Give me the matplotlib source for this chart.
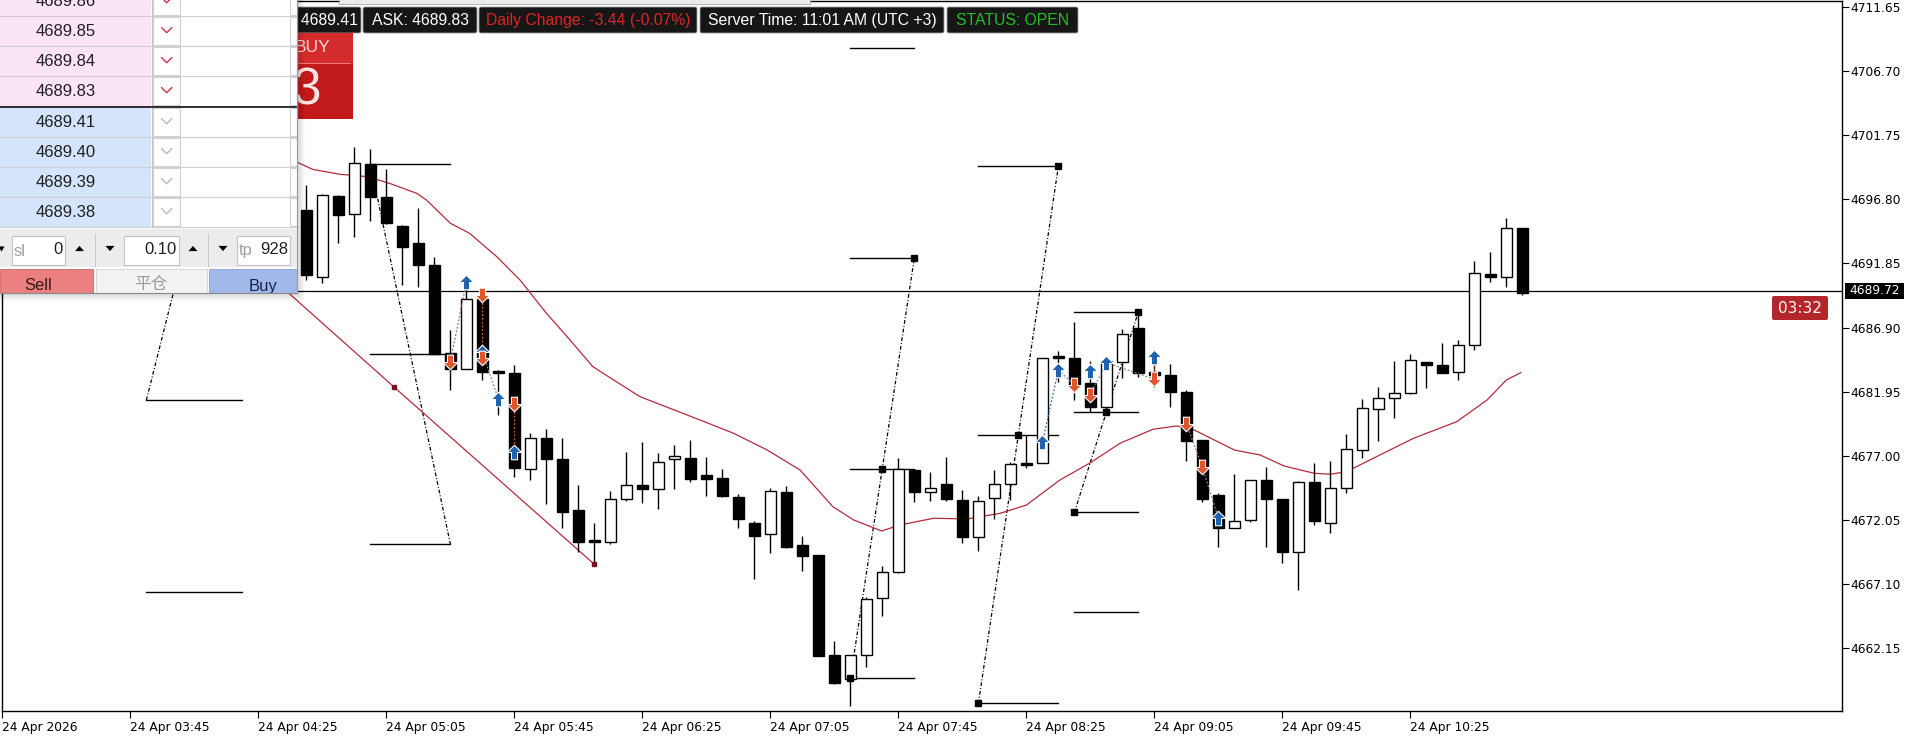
import matplotlib
matplotlib.use('Agg')
import matplotlib.pyplot as plt
from matplotlib.patches import Rectangle, FancyBboxPatch, Polygon
from matplotlib.path import Path
import numpy as np

W, H = 1920, 738

# 5-minute bars, index 0 = 24 Apr 03:05
bar_idx = list(range(19, 96))
opens = [4695.97, 4690.78, 4697.06, 4695.64, 4699.53, 4696.95, 4694.74, 4693.40, 4691.73, 4684.91,
         4683.72, 4689.08, 4683.54, 4683.36, 4675.95, 4678.34, 4676.72, 4672.81, 4670.40, 4670.36,
         4673.63, 4674.74, 4674.41, 4676.72, 4676.80, 4675.49, 4675.26, 4673.79, 4671.78, 4670.93,
         4674.20, 4670.08, 4669.34, 4661.59, 4659.73, 4661.59, 4665.99, 4668.05, 4675.90, 4674.17,
         4674.82, 4673.58, 4670.70, 4673.71, 4674.79, 4676.41, 4676.41, 4684.60, 4684.52, 4682.64,
         4680.79, 4684.26, 4686.84, 4683.44, 4683.23, 4681.89, 4678.21, 4673.97, 4671.39, 4672.04,
         4675.13, 4673.66, 4669.59, 4674.94, 4671.83, 4674.48, 4677.45, 4680.59, 4681.43, 4681.82,
         4684.21, 4684.01, 4683.44, 4685.53, 4691.01, 4690.78, 4694.56]
highs = [4697.90, 4697.21, 4697.14, 4700.87, 4700.66, 4699.11, 4694.80, 4696.10, 4692.37, 4686.71,
         4690.31, 4689.67, 4683.60, 4684.01, 4678.73, 4679.04, 4678.34, 4674.74, 4671.83, 4674.28,
         4677.26, 4678.04, 4677.19, 4677.83, 4678.22, 4676.88, 4675.95, 4674.02, 4671.96, 4674.48,
         4674.66, 4670.83, 4669.34, 4662.69, 4661.60, 4666.07, 4668.49, 4676.80, 4675.98, 4675.77,
         4676.93, 4674.35, 4673.89, 4675.90, 4676.54, 4678.57, 4684.52, 4685.11, 4687.35, 4684.34,
         4684.52, 4686.79, 4688.18, 4684.91, 4684.08, 4682.07, 4678.21, 4674.15, 4675.56, 4675.13,
         4676.15, 4673.66, 4675.05, 4676.41, 4676.59, 4678.65, 4681.36, 4682.28, 4684.29, 4684.86,
         4684.21, 4685.68, 4685.94, 4692.04, 4692.71, 4695.33, 4694.60]
lows = [4690.57, 4690.36, 4693.40, 4693.92, 4695.15, 4694.90, 4690.18, 4690.05, 4684.83, 4682.07,
        4683.72, 4682.85, 4680.14, 4675.38, 4675.13, 4673.25, 4671.39, 4669.59, 4668.78, 4670.20,
        4673.50, 4673.32, 4672.91, 4674.41, 4675.00, 4673.92, 4673.81, 4671.45, 4667.46, 4669.46,
        4669.90, 4668.13, 4661.56, 4659.37, 4657.68, 4660.71, 4664.62, 4667.97, 4673.45, 4673.53,
        4673.50, 4670.29, 4669.67, 4672.09, 4673.58, 4676.08, 4676.40, 4682.72, 4681.30, 4680.40,
        4680.36, 4682.98, 4683.10, 4682.33, 4680.79, 4676.62, 4673.45, 4669.98, 4671.39, 4671.90,
        4669.93, 4668.69, 4666.63, 4671.65, 4671.01, 4674.15, 4676.85, 4678.17, 4679.94, 4681.80,
        4682.26, 4683.37, 4682.88, 4685.19, 4690.44, 4690.06, 4689.44]
closes = [4690.96, 4697.13, 4695.61, 4699.58, 4697.00, 4694.94, 4693.14, 4691.75, 4684.83, 4683.72,
          4689.08, 4683.49, 4683.36, 4676.03, 4678.34, 4676.72, 4672.68, 4670.36, 4670.36, 4673.63,
          4674.71, 4674.46, 4676.49, 4676.95, 4675.23, 4675.23, 4673.89, 4672.14, 4670.83, 4674.28,
          4669.98, 4669.28, 4661.56, 4659.48, 4661.59, 4665.91, 4668.00, 4675.98, 4674.23, 4674.48,
          4673.63, 4670.70, 4673.51, 4674.79, 4676.33, 4676.28, 4684.52, 4684.57, 4682.46, 4680.79,
          4684.34, 4686.37, 4683.41, 4683.26, 4681.95, 4678.16, 4673.66, 4671.39, 4671.96, 4675.13,
          4673.63, 4669.59, 4675.00, 4671.98, 4674.48, 4677.50, 4680.66, 4681.43, 4681.82, 4684.37,
          4684.03, 4683.42, 4685.53, 4691.09, 4690.78, 4694.56, 4689.60]

# moving average line
ma_x = [18.0, 19.4, 21.1, 22.8, 24.2, 25.9, 26.5, 28.0, 29.2, 30.9, 32.35, 34.0, 35.3, 36.9, 38.2,
        39.85, 43.6, 45.7, 47.8, 49.85, 51.9, 53.2, 54.95, 56.1, 58.2, 60.3, 62.35, 64.0, 66.1, 68.0,
        69.85, 71.9, 73.4, 74.4, 77.0, 78.6, 80.1, 82.0, 83.0, 84.0, 86.1, 88.2, 90.9, 92.8, 94.0, 94.9]
ma_y = [4699.90, 4699.11, 4698.73, 4698.55, 4698.03, 4697.26, 4696.75, 4694.95, 4694.17, 4692.37,
        4690.57, 4688.00, 4686.19, 4683.88, 4682.85, 4681.56, 4679.76, 4678.73, 4677.44, 4675.90,
        4673.07, 4672.04, 4671.19, 4671.65, 4672.17, 4672.12, 4672.55, 4673.19, 4675.13, 4676.46,
        4677.96, 4679.04, 4679.30, 4679.04, 4677.44, 4677.06, 4676.21, 4675.64, 4675.57, 4675.77,
        4677.06, 4678.35, 4679.63, 4681.31, 4682.85, 4683.42]

trend_x = [17.4, 24.5, 37.0]
trend_y = [4690.10, 4682.28, 4668.61]

# level groups: start bar, end bar, levels, diagonal (x0, y0, x1, y1), squares
grp_start = [9, 23, 53, 61, 67]
grp_end = [15, 28, 57, 66, 71]
grp_levels = [[4681.30, 4666.48],
              [4699.50, 4684.83, 4670.16],
              [4708.46, 4692.30, 4675.98, 4659.80],
              [4699.37, 4678.60, 4657.88],
              [4688.12, 4680.35, 4672.63, 4664.90]]
grp_diag = [(9, 4681.30, 15, 4710.80),
            (23, 4699.50, 28, 4670.16),
            (53, 4659.80, 57, 4692.30),
            (61, 4657.88, 66, 4699.37),
            (67, 4672.63, 71, 4688.12)]
sq_x = [53, 55, 57, 61, 63.5, 66, 67, 69, 71]
sq_y = [4659.80, 4675.98, 4692.30, 4657.88, 4678.60, 4699.37, 4672.63, 4680.35, 4688.12]

buy_x = [29, 30, 31, 32, 65, 66, 68, 69, 72, 76]
buy_y = [4690.44, 4684.98, 4681.35, 4677.31, 4678.03, 4683.62, 4683.54, 4684.19, 4684.65, 4672.17]
sell_x = [28, 30, 30, 32, 67, 68, 72, 74, 75]
sell_y = [4684.26, 4689.41, 4684.52, 4681.00, 4682.46, 4681.69, 4682.90, 4679.45, 4676.10]

link_x0 = [28, 30, 30, 32, 65, 66, 68, 69, 72, 74, 75]
link_y0 = [4684.26, 4689.41, 4684.98, 4681.00, 4678.03, 4683.62, 4681.69, 4684.19, 4684.65, 4679.45, 4676.10]
link_x1 = [29, 30, 31, 32, 66, 67, 69, 72, 72, 75, 76]
link_y1 = [4690.44, 4684.52, 4681.35, 4677.31, 4683.62, 4682.46, 4684.19, 4682.90, 4682.90, 4676.10, 4672.17]
link_col = ['#9a7060', '#e05030', '#8a8a9a', '#e05030', '#3070b0', '#8a8a8a', '#8a8a9a',
            '#8a8a8a', '#e05030', '#b07060', '#8a8a8a']

xtick_idx = [0, 8, 16, 24, 32, 40, 48, 56, 64, 72, 80, 88]
xtick_lab = ['24 Apr 2026', '24 Apr 03:45', '24 Apr 04:25', '24 Apr 05:05', '24 Apr 05:45',
             '24 Apr 06:25', '24 Apr 07:05', '24 Apr 07:45', '24 Apr 08:25', '24 Apr 09:05',
             '24 Apr 09:45', '24 Apr 10:25']
ytick_val = [4711.65, 4706.70, 4701.75, 4696.80, 4691.85, 4686.90, 4681.95, 4677.00, 4672.05,
             4667.10, 4662.15]
bid_line = 4689.72

dom_ask = ['4689.86', '4689.85', '4689.84', '4689.83']
dom_bid = ['4689.41', '4689.40', '4689.39', '4689.38']
header_txt = ['BID: 4689.41', 'ASK: 4689.83', 'Daily Change: -3.44 (-0.07%)',
              'Server Time: 11:01 AM (UTC +3)', 'STATUS: OPEN']
header_col = ['white', 'white', '#e02424', 'white', '#22c022']
header_x = [(230, 361), (363, 477), (479, 697), (700, 944), (947, 1078)]

fig = plt.figure(figsize=(W / 100, H / 100), dpi=100)
ax = fig.add_axes([2 / W, 1 - 711 / H, 1840 / W, 710 / H])
ax.set_xlim(-0.025, 114.975)
ax.set_ylim(4657.288, 4712.113)

# level groups and diagonals
for i in range(len(grp_start)):
    for lv in grp_levels[i]:
        ax.plot([grp_start[i], grp_end[i]], [lv, lv], color='black', lw=1.0, zorder=1)
    x0, y0, x1, y1 = grp_diag[i]
    ax.plot([x0, x1], [y0, y1], color='black', lw=0.9, ls=(0, (3, 1.6, 0.8, 1.6)), zorder=1)
ax.plot(sq_x, sq_y, 's', color='black', ms=4, zorder=6)

ax.axhline(bid_line, color='black', lw=0.9, zorder=2)
ax.plot(ma_x, ma_y, color='#b52b3c', lw=0.9, zorder=2)
ax.plot(trend_x, trend_y, color='#b52b3c', lw=0.9, zorder=2)
ax.plot(trend_x[1:], trend_y[1:], 's', color='#7a1020', ms=3.5, zorder=6)

# candles
x = np.array(bar_idx)
o = np.array(opens)
c = np.array(closes)
hi = np.array(highs)
lo = np.array(lows)
up = c >= o
ax.vlines(x, lo, hi, color='black', lw=1.0, zorder=3)
blo = np.minimum(o, c)
bh = np.maximum(np.abs(c - o), 0.12)
ax.bar(x[up], bh[up], bottom=blo[up], width=0.64, facecolor='white', edgecolor='black', lw=1.0, zorder=4)
ax.bar(x[~up], bh[~up], bottom=blo[~up], width=0.64, facecolor='black', edgecolor='black', lw=1.0, zorder=4)

# trade history
for i in range(len(link_x0)):
    ax.plot([link_x0[i], link_x1[i]], [link_y0[i], link_y1[i]], color=link_col[i], lw=0.9,
            ls=(0, (1.5, 1.5)), zorder=5)
arrow_up = Path([(0, 1), (1, 0), (0.42, 0), (0.42, -1), (-0.42, -1), (-0.42, 0), (-1, 0), (0, 1)],
                [Path.MOVETO] + [Path.LINETO] * 6 + [Path.CLOSEPOLY])
arrow_dn = Path([(px, -py) for px, py in arrow_up.vertices], arrow_up.codes)
ax.plot(buy_x, buy_y, ls='none', marker=arrow_up, ms=10.5, color='#1f62ad', mec='white', mew=0.8, zorder=7)
ax.plot(sell_x, sell_y, ls='none', marker=arrow_dn, ms=10.5, color='#e4542c', mec='white', mew=0.8, zorder=7)

# axes styling
for s in ['left', 'right', 'bottom', 'top']:
    ax.spines[s].set_color('black')
    ax.spines[s].set_linewidth(1.0)
ax.yaxis.tick_right()
ax.set_yticks(ytick_val)
ax.set_yticklabels(['%.2f' % v for v in ytick_val])
ax.set_xticks(xtick_idx)
ax.set_xticklabels(xtick_lab)
ax.tick_params(axis='y', direction='out', length=5, width=0.8, pad=1, labelsize=8.8)
ax.tick_params(axis='x', direction='out', length=5, width=0.8, pad=2, labelsize=8.8)
for lab in ax.get_xticklabels():
    lab.set_ha('left')

# overlay in pixel coordinates
ov = fig.add_axes([0, 0, 1, 1], zorder=10)
ov.set_xlim(0, W)
ov.set_ylim(H, 0)
ov.axis('off')
ov.patch.set_visible(False)


def rect(x0, y0, x1, y1, fc, ec='none', lw=0, z=2, alpha=1.0):
    p = Rectangle((x0, y0), x1 - x0, y1 - y0, facecolor=fc, edgecolor=ec, linewidth=lw,
                  zorder=z, alpha=alpha)
    ov.add_patch(p)
    return p


def tri(cx, cy, down=False, size=4.5):
    s = -1 if down else 1
    ov.add_patch(Polygon([(cx - size, cy + 2.6 * s), (cx + size, cy + 2.6 * s), (cx, cy - 2.6 * s)],
                         closed=True, facecolor='black', edgecolor='none', zorder=5))


ui = 'Liberation Sans'

# top window strip
rect(339, -1, 810, 4, '#ececec', ec='#a8a8a8', lw=0.6)

# header boxes
for i in range(len(header_txt)):
    xa, xb = header_x[i]
    ov.add_patch(FancyBboxPatch((xa, 7), xb - xa, 26, boxstyle='round,pad=0,rounding_size=2',
                                facecolor='#161616', edgecolor='#9c9c9c', lw=0.6, zorder=2))
    if i == 0:
        ov.text(xb - 3, 20.5, header_txt[i], color=header_col[i], fontsize=11.3, family=ui,
                ha='right', va='center', zorder=3)
    else:
        ov.text((xa + xb) / 2, 20.5, header_txt[i], color=header_col[i], fontsize=11.3, family=ui,
                ha='center', va='center', zorder=3)

# BUY box
rect(250, 33, 353, 63, '#d42c2c')
rect(250, 63, 353, 119, '#c21a1a')
ov.plot([296, 350], [63, 63], color='#e87a7a', lw=0.8, zorder=3)
ov.text(295, 48, 'BUY', color='#f6d6d6', fontsize=12.5, family=ui, ha='left', va='center', zorder=3)
ov.text(292, 91, '3', color='#fbe4e4', fontsize=37, family=ui, ha='left', va='center', zorder=3)

# panel shadow and body
for k in range(1, 9):
    rect(0, -2, 297 + k, 293 + k, '#000000', alpha=0.018, z=3)
rect(0, -20, 297, 293, 'white', z=4)

row_h = 30
for k in range(4):
    for j, (lst, fill, chev) in enumerate([(dom_ask, '#fce4f7', '#c8344a'), (dom_bid, '#d4e4fa', '#b8b8b8')]):
        y0 = (-14.3 if j == 0 else 106.7) + k * row_h
        y1 = y0 + row_h
        yc = (y0 + y1) / 2
        rect(0, y0, 151, y1, fill, z=5)
        rect(153, y0 + 1, 179.5, y1 - 1, 'white', ec='#d2d2d2', lw=0.8, z=5)
        rect(289.5, y0 + 1, 297, y1 - 1, 'white', ec='#d2d2d2', lw=0.8, z=5)
        ov.plot([0, 297], [y1, y1], color='#d0d0d0', lw=0.8, zorder=6)
        ov.plot([161.7, 166.7, 171.7], [yc - 3, yc + 2, yc - 3], color=chev, lw=1.0, zorder=6)
        ov.text(66, yc + 0.5, lst[k], fontsize=12, family=ui, color='#202020', ha='center',
                va='center', zorder=6)
ov.plot([151.5, 151.5], [-20, 227], color='#c4c4c4', lw=0.8, zorder=6)
ov.plot([0, 297], [106.7, 106.7], color='black', lw=1.1, zorder=7)

# control row
rect(0, 229, 297, 267, '#ececec', z=5)
ov.plot([95, 95], [234, 266], color='#c8c8c8', lw=0.8, zorder=6)
ov.plot([208, 208], [234, 266], color='#c8c8c8', lw=0.8, zorder=6)
for xa, xb in [(11.7, 65), (124, 179), (236.7, 290)]:
    rect(xa, 236, xb, 265, 'white', ec='#c4c4c4', lw=0.8, z=6)
tri(1.5, 249, down=True, size=3)
tri(79.5, 248.5)
tri(110, 248.5, down=True)
tri(193, 248.5)
tri(223, 248.5, down=True)
ov.text(14, 251, 'sl', fontsize=12, family=ui, color='#a0a0a0', ha='left', va='center', zorder=7)
ov.text(63, 249, '0', fontsize=12, family=ui, color='#202020', ha='right', va='center', zorder=7)
ov.text(177, 249, '0.10', fontsize=12, family=ui, color='#202020', ha='right', va='center', zorder=7)
ov.text(239, 251, 'tp', fontsize=12, family=ui, color='#a0a0a0', ha='left', va='center', zorder=7)
ov.text(288, 249, '928', fontsize=12, family=ui, color='#202020', ha='right', va='center', zorder=7)

# buttons
b1 = rect(0, 269, 93, 293, '#ec8080', ec='#c86868', lw=0.6, z=6)
b2 = rect(96, 269, 207, 293, '#f3f3f3', ec='#d0d0d0', lw=0.6, z=6)
b3 = rect(209, 269, 297, 293, '#a0b8ea', ec='#8aa0d0', lw=0.6, z=6)
t1 = ov.text(38.5, 286, 'Sell', fontsize=12, family=ui, color='#3a1616', ha='center', va='center', zorder=7)
t2 = ov.text(151, 285, '平仓', fontsize=12, family=['Noto Sans CJK SC', 'DejaVu Sans'], color='#9a9a9a',
             ha='center', va='center', zorder=7)
t3 = ov.text(263, 286, 'Buy', fontsize=12, family=ui, color='#16244e', ha='center', va='center', zorder=7)
t1.set_clip_path(b1)
t2.set_clip_path(b2)
t3.set_clip_path(b3)
ov.plot([0, 297], [293, 293], color='#8a8a8a', lw=0.8, zorder=8)
ov.plot([297, 297], [-5, 293], color='#9a9a9a', lw=0.8, zorder=8)

# right-side labels
rect(1845, 283, 1904, 299, 'black', z=3)
ov.text(1874.5, 291, '%.2f' % bid_line, color='white', fontsize=8.8, ha='center', va='center', zorder=4)
ov.add_patch(FancyBboxPatch((1772, 296), 56, 24, boxstyle='round,pad=0,rounding_size=2',
                            facecolor='#b3262a', edgecolor='none', zorder=3))
ov.text(1800, 308.5, '03:32', color='white', fontsize=11, ha='center', va='center', zorder=4)

fig.savefig('out.png', dpi=100)
